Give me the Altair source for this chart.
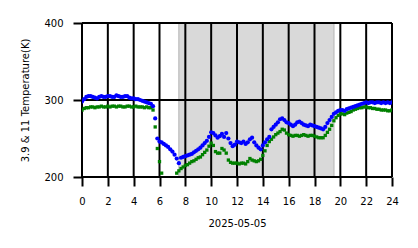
import altair as alt
import pandas as pd

# 10-minute samples, 00:00 .. 24:00
blue_39 = [
    298, 301, 304, 305, 305, 304,
    303, 302, 304, 305, 304, 304,
    305, 305, 304, 304, 306, 305,
    304, 304, 305, 305, 303, 302,
    302, 301, 301, 300, 299, 298,
    297, 296, 295, 292, 276, 250,
    246, 245, 243, 241, 239, 236,
    233, 229, 224, 218, 225, 226,
    227, 228, 229, 230, 232, 234,
    236, 238, 241, 244, 247, 252,
    258, 257, 254, 251, 253, 256,
    252, 257, 250, 244, 240, 242,
    246, 245, 244, 246, 243, 245,
    249, 251, 245, 241, 238, 236,
    241, 245, 249, 252, 262, 265,
    268, 271, 275, 276, 274, 271,
    270, 268, 266, 268, 271, 272,
    270, 268, 267, 266, 268, 267,
    266, 265, 264, 263, 262, 265,
    270, 274, 278, 282, 284, 286,
    287, 287, 286, 288, 289, 290,
    291, 292, 293, 294, 295, 296,
    297, 296, 297, 297, 296, 297,
    297, 296, 297, 296, 297, 296,
    297,
]
green_11 = [
    287, 289, 290, 290, 291, 291,
    290, 291, 291, 292, 291, 291,
    292, 291, 292, 292, 291, 292,
    292, 291, 291, 292, 292, 291,
    291, 292, 291, 291, 291, 290,
    291, 290, 290, 287, 265, 237,
    220, 205, None, None, None, None,
    None, None, 205, 208, 211, 213,
    215, 216, 218, 220, 221, 223,
    225, 226, 229, 232, 235, 240,
    244, 241, 233, 231, 231, 237,
    235, 231, 222, 219, 218, 218,
    218, 217, 218, 218, 217, 220,
    224, 222, 221, 220, 221, 223,
    228, 234, 241, 246, 249, 252,
    255, 257, 259, 262, 261, 257,
    255, 254, 253, 254, 254, 253,
    254, 255, 254, 253, 254, 254,
    253, 252, 251, 251, 251, 254,
    258, 262, 267, 273, 277, 280,
    282, 282, 281, 283, 284, 285,
    287, 288, 289, 290, 290, 291,
    291, 290, 290, 289, 289, 288,
    288, 287, 287, 287, 286, 286,
    287,
]
hours = [i / 6 for i in range(len(blue_39))]

x_ticks = [0, 2, 4, 6, 8, 10, 12, 14, 16, 18, 20, 22, 24]
y_ticks = [200, 300, 400]
night_start, night_end = 7.5, 19.5

FONT = "DejaVu Sans"
W, H = 310, 154

blue_df = pd.DataFrame({"h": hours, "t": blue_39})
green_df = pd.DataFrame({"h": hours, "t": green_11}).dropna()
span_df = pd.DataFrame({"a": [night_start], "b": [night_end]})
vx_df = pd.DataFrame({"h": x_ticks})
hy_df = pd.DataFrame({"t": y_ticks})

xscale = alt.Scale(domain=[0, 24], nice=False)
yscale = alt.Scale(domain=[200, 400], nice=False)

xaxis = alt.Axis(values=x_ticks, title="2025-05-05", grid=False, domain=False,
                 tickColor="black", tickWidth=2, tickSize=9, labelPadding=10,
                 labelFlush=False, titlePadding=12)
yaxis = alt.Axis(values=y_ticks, title="3.9 & 11 Temperature(K)", grid=False,
                 domain=False, tickColor="black", tickWidth=2, tickSize=9,
                 labelPadding=10, titlePadding=13)

span = alt.Chart(span_df).mark_rect(fill="#d9d9d9", stroke="#c4c4c4",
                                    strokeWidth=1.5).encode(
    x=alt.X("a:Q", scale=xscale, axis=xaxis),
    x2="b:Q",
    y=alt.value(0),
    y2=alt.value(H),
)

vgrid = alt.Chart(vx_df).mark_rule(color="black", strokeWidth=2).encode(
    x=alt.X("h:Q", scale=xscale, axis=xaxis),
)
hgrid = alt.Chart(hy_df).mark_rule(color="black", strokeWidth=2).encode(
    y=alt.Y("t:Q", scale=yscale, axis=yaxis),
)

blue_pts = alt.Chart(blue_df).mark_point(shape="circle", filled=True,
                                         color="#0000ff", size=18, opacity=1,
                                         clip=True).encode(
    x=alt.X("h:Q", scale=xscale, axis=xaxis),
    y=alt.Y("t:Q", scale=yscale, axis=yaxis),
)
green_pts = alt.Chart(green_df).mark_point(shape="square", filled=True,
                                           color="#008000", size=11, opacity=1,
                                           clip=True).encode(
    x=alt.X("h:Q", scale=xscale, axis=xaxis),
    y=alt.Y("t:Q", scale=yscale, axis=yaxis),
)

chart = alt.layer(span, vgrid, hgrid, green_pts, blue_pts).properties(
    width=W, height=H,
    autosize=alt.AutoSizeParams(type="none"),
    padding={"left": 82, "top": 23, "right": 26, "bottom": 71},
    background="white",
).configure_view(strokeWidth=0).configure_axis(
    labelFont=FONT, labelFontSize=10, labelColor="black",
    titleFont=FONT, titleFontSize=10, titleFontWeight="normal", titleColor="black",
)

chart.save("out.html", embed_options={"renderer": "svg", "actions": False})
